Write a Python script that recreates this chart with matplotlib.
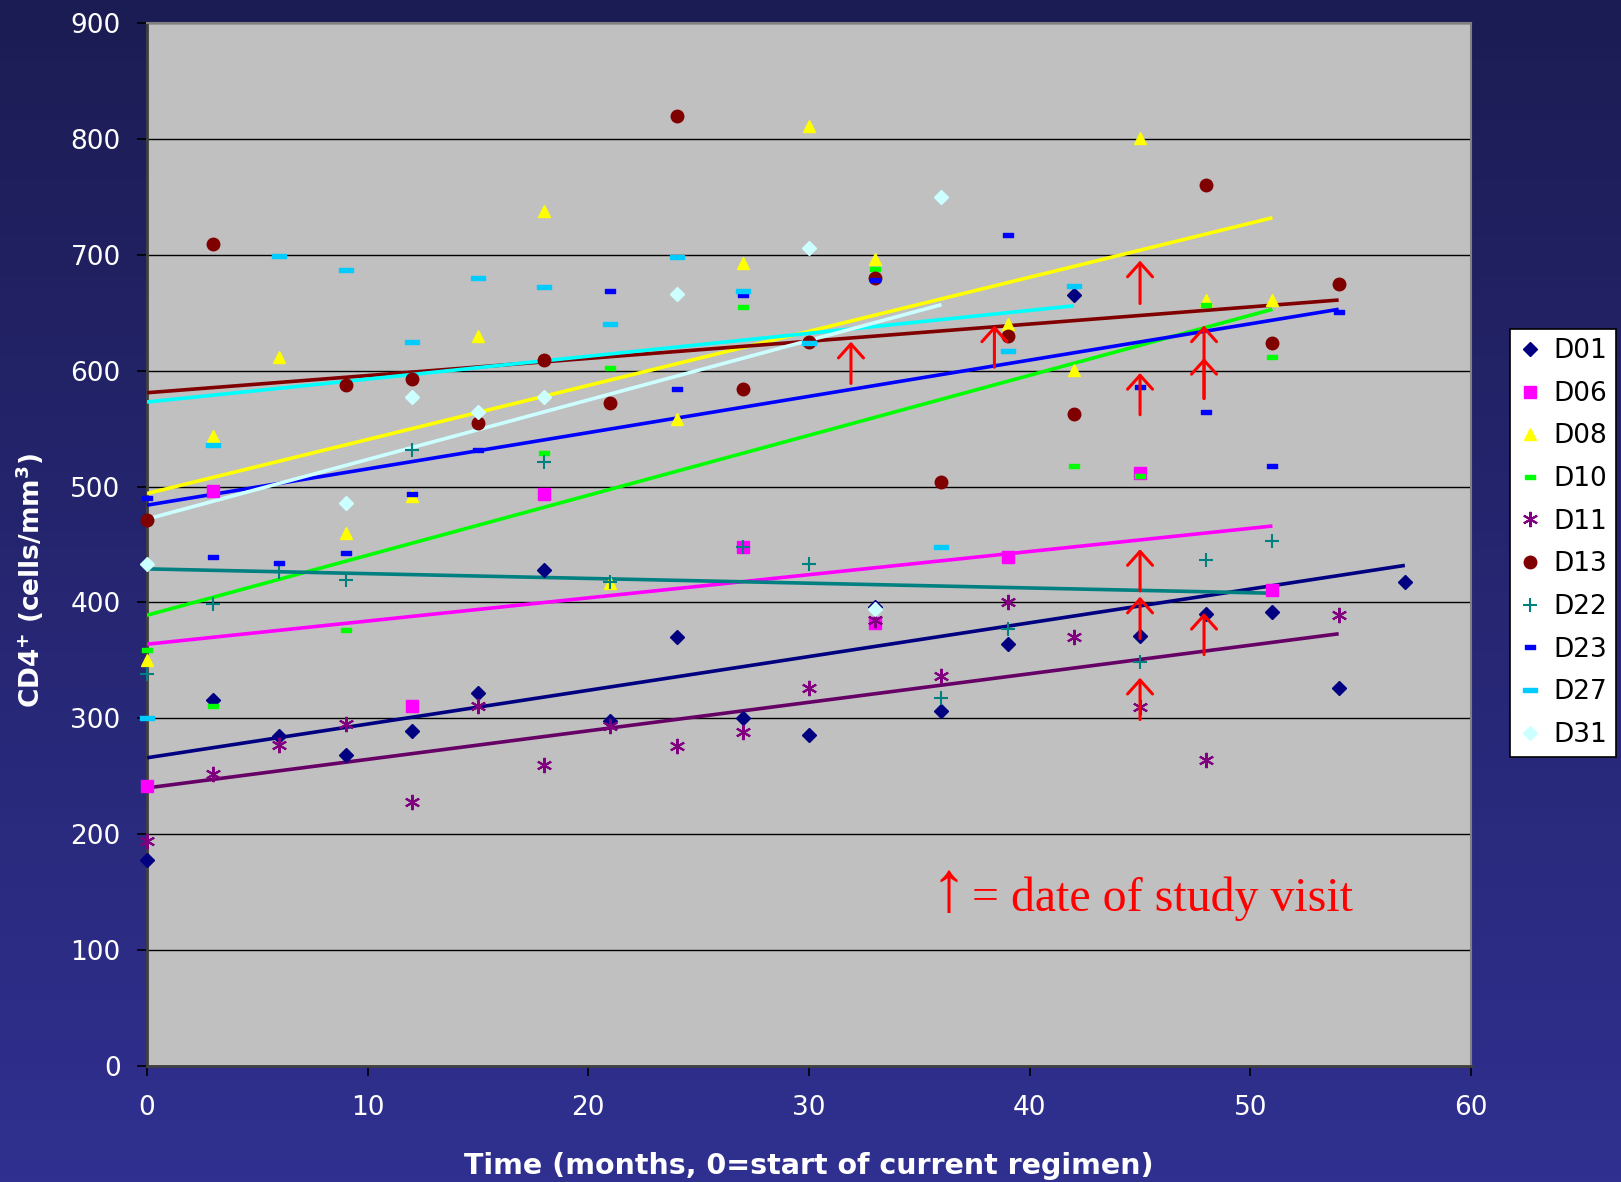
import matplotlib
matplotlib.use('Agg')
import matplotlib.pyplot as plt
import numpy as np
from matplotlib.path import Path

# CD4 counts per subject, months since start of current regimen
D01_t = [0, 3, 6, 9, 12, 15, 18, 21, 24, 27, 30, 33, 36, 39, 42, 45, 48, 51, 54, 57]
D01_y = [178, 316, 285, 268, 289, 322, 428, 298, 370, 300, 286, 396, 306, 364, 665, 371, 390, 392, 326, 418]

D06_t = [0, 3, 12, 18, 27, 33, 39, 45, 51]
D06_y = [242, 496, 311, 494, 448, 382, 439, 512, 411]

D08_t = [0, 3, 6, 9, 12, 15, 18, 21, 24, 27, 30, 33, 39, 42, 45, 48, 51]
D08_y = [350, 544, 612, 460, 492, 630, 738, 417, 558, 693, 811, 696, 640, 601, 801, 661, 661]

D10_t = [0, 3, 9, 18, 21, 27, 33, 42, 45, 48, 51]
D10_y = [359, 311, 376, 529, 602, 655, 688, 518, 509, 657, 612]

D11_t = [0, 3, 6, 9, 12, 15, 18, 21, 24, 27, 30, 33, 36, 39, 42, 45, 48, 54]
D11_y = [194, 252, 277, 295, 228, 311, 260, 293, 276, 288, 326, 385, 337, 400, 370, 310, 264, 389]

D13_t = [0, 3, 9, 12, 15, 18, 21, 24, 27, 30, 33, 36, 39, 42, 48, 51, 54]
D13_y = [471, 709, 588, 593, 555, 609, 572, 820, 584, 625, 680, 504, 630, 563, 760, 624, 675]

D22_t = [0, 3, 6, 9, 12, 18, 21, 27, 30, 36, 39, 45, 48, 51]
D22_y = [338, 399, 426, 419, 532, 521, 418, 448, 433, 318, 377, 349, 437, 453]

D23_t = [0, 3, 6, 9, 12, 15, 21, 24, 27, 33, 39, 45, 48, 51, 54]
D23_y = [490, 439, 434, 443, 494, 532, 669, 584, 665, 678, 717, 586, 564, 518, 651]

D27_t = [0, 3, 6, 9, 12, 15, 18, 21, 24, 27, 30, 36, 39, 42]
D27_y = [300, 536, 699, 687, 625, 680, 672, 640, 698, 669, 624, 448, 617, 673]

D31_t = [0, 9, 12, 15, 18, 24, 30, 33, 36]
D31_y = [433, 486, 577, 564, 577, 666, 706, 394, 750]

# linear trend per subject: (start month, end month, start value, end value)
D01_fit = (0, 57, 266, 432)
D06_fit = (0, 51, 364, 466)
D08_fit = (0, 51, 494, 732)
D10_fit = (0, 51, 389, 653)
D11_fit = (0, 54, 240, 373)
D13_fit = (0, 54, 581, 661)
D22_fit = (0, 51, 429, 408)
D23_fit = (0, 54, 484, 653)
D27_fit = (0, 42, 573, 656)
D31_fit = (0, 36, 472, 657)

# study visits: month, arrow base, arrow tip
visit_t = [31.9, 38.4, 45, 45, 47.9, 47.9, 45, 45, 45, 47.9]
visit_lo = [589, 603, 658, 562, 576, 576, 410, 369, 299, 355]
visit_hi = [625, 639, 695, 598, 639, 611, 446, 405, 335, 391]

dash = Path([(-1, -0.42), (1, -0.42), (1, 0.42), (-1, 0.42), (-1, -0.42)],
            [Path.MOVETO, Path.LINETO, Path.LINETO, Path.LINETO, Path.CLOSEPOLY])
longdash = Path([(-1, -0.28), (1, -0.28), (1, 0.28), (-1, 0.28), (-1, -0.28)],
                [Path.MOVETO, Path.LINETO, Path.LINETO, Path.LINETO, Path.CLOSEPOLY])

series = [
    ('D01', D01_t, D01_y, D01_fit, dict(marker='D', ms=7.5, color='#000080'), '#000080'),
    ('D06', D06_t, D06_y, D06_fit, dict(marker='s', ms=8, color='#FF00FF'), '#FF00FF'),
    ('D08', D08_t, D08_y, D08_fit, dict(marker='^', ms=9, color='#FFFF00'), '#FFFF00'),
    ('D10', D10_t, D10_y, D10_fit, dict(marker=dash, ms=6.5, color='#00FF00'), '#00FF00'),
    ('D11', D11_t, D11_y, D11_fit, dict(marker=(6, 2, 0), ms=11, color='#800080', mew=1.5), '#660066'),
    ('D13', D13_t, D13_y, D13_fit, dict(marker='o', ms=9, color='#800000'), '#800000'),
    ('D22', D22_t, D22_y, D22_fit, dict(marker='+', ms=10, color='#008080', mew=1.5), '#008080'),
    ('D23', D23_t, D23_y, D23_fit, dict(marker=dash, ms=6.5, color='#0000FF'), '#0000FF'),
    ('D27', D27_t, D27_y, D27_fit, dict(marker=longdash, ms=10, color='#00CCFF'), '#00FFFF'),
    ('D31', D31_t, D31_y, D31_fit, dict(marker='D', ms=7.5, color='#CCFFFF'), '#CCFFFF'),
]

fig = plt.figure(figsize=(16.21, 11.82), dpi=100)

# blue gradient background behind the chart
bg = fig.add_axes([0, 0, 1, 1], zorder=-10)
top = np.array([28, 28, 84]) / 255
bot = np.array([48, 48, 144]) / 255
g = np.linspace(0, 1, 256)[:, None]
grad = top[None, None, :] * (1 - g[:, :, None]) + bot[None, None, :] * g[:, :, None]
bg.imshow(np.repeat(grad, 2, axis=1), aspect='auto', extent=(0, 1, 0, 1))
bg.axis('off')

ax = fig.add_axes([0.0907, 0.0981, 0.8168, 0.8824])
ax.set_facecolor('#C0C0C0')
ax.set_xlim(0, 60)
ax.set_ylim(0, 900)
ax.set_yticks(np.arange(0, 901, 100))
ax.set_xticks(np.arange(0, 61, 10))
ax.yaxis.grid(True, color='black', lw=1.0)
ax.set_axisbelow(True)

handles = []
for name, t, y, fit, style, lc in series:
    t0, t1, y0, y1 = fit
    ax.plot([t0, t1], [y0, y1], color=lc, lw=2.6, zorder=3, solid_capstyle='butt')
for name, t, y, fit, style, lc in series:
    h, = ax.plot(t, y, ls='none', zorder=4, label=name, clip_on=False, **style)
    handles.append(h)

for t, lo, hi in zip(visit_t, visit_lo, visit_hi):
    ax.annotate('', xy=(t, hi), xytext=(t, lo),
                arrowprops=dict(arrowstyle='->, head_length=0.5, head_width=0.45',
                                color='#FF0000', lw=2.2, mutation_scale=20,
                                shrinkA=0, shrinkB=0), zorder=5)

serif = ['Liberation Serif', 'DejaVu Serif']
ax.text(36.3, 134, '\u2191', color='#FF0000', fontsize=52, family=serif,
        ha='center', va='baseline')
ax.text(37.4, 134, '= date of study visit', color='#FF0000', fontsize=34.5,
        family=serif, ha='left', va='baseline')

for s in ['left', 'bottom']:
    ax.spines[s].set_color('#404040')
    ax.spines[s].set_linewidth(2)
for s in ['top', 'right']:
    ax.spines[s].set_color('#808080')
    ax.spines[s].set_linewidth(1.5)

ax.tick_params(axis='both', colors='black', direction='out', length=7, width=1.2,
               labelcolor='white', labelsize=19)
for lab in ax.get_xticklabels() + ax.get_yticklabels():
    lab.set_family('DejaVu Sans')
ax.tick_params(axis='x', pad=14)
ax.tick_params(axis='y', pad=12)

ax.set_xlabel('Time (months, 0=start of current regimen)', color='white',
              fontsize=20.5, fontweight='bold', labelpad=22)
ax.set_ylabel(r'CD4$^{\mathbf{+}}$ (cells/mm$^{\mathbf{3}}$)', color='white',
              fontsize=19, fontweight='bold')
ax.yaxis.set_label_coords(-0.076, 0.465)

leg = fig.legend(handles=handles, loc='upper left', bbox_to_anchor=(0.9315, 0.7217),
                 fontsize=19, frameon=True, fancybox=False, edgecolor='black',
                 facecolor='white', framealpha=1, handlelength=0.8, handletextpad=0.5,
                 labelspacing=0.63, borderpad=0.35, borderaxespad=0)
leg.get_frame().set_linewidth(1.2)

fig.savefig('out.png', dpi=100)
